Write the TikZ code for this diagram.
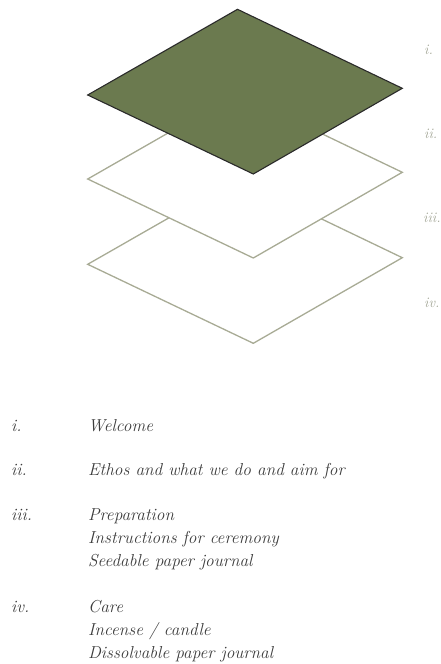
\documentclass[tikz,border=0pt]{standalone}
\usepackage{xcolor}
\definecolor{leaf}{HTML}{6B7A4F}
\definecolor{edge}{HTML}{2A2A2A}
\definecolor{sheet}{HTML}{A8AB95}
\definecolor{txt}{HTML}{3C3C3C}
\definecolor{lbl}{HTML}{A3A696}
\begin{document}
\begin{tikzpicture}[x=1pt,y=-1pt,
  layer/.style={fill=white,draw=sheet,line width=1.3pt,line join=miter},
  toplayer/.style={fill=leaf,draw=edge,line width=1.1pt,line join=miter},
  sidelbl/.style={anchor=base west,inner sep=0pt,font=\fontsize{14.5}{14.5}\selectfont\itshape,text=lbl},
  listtxt/.style={anchor=base west,inner sep=0pt,font=\fontsize{17.3}{17.3}\selectfont\itshape,text=txt}]
\useasboundingbox (0,0) rectangle (441,664);
% bottom sheet
\coordinate (T3) at (237.5,178.6);
\coordinate (R3) at (402.3,257.7);
\coordinate (B3) at (253.3,343.3);
\coordinate (L3) at (87.7,264.3);
\draw[layer] (T3) -- (R3) -- (B3) -- (L3) -- cycle;
% middle sheet
\coordinate (T2) at (237.5,93.3);
\coordinate (R2) at (402.3,172.3);
\coordinate (B2) at (253.3,258);
\coordinate (L2) at (87.7,179);
\draw[layer] (T2) -- (R2) -- (B2) -- (L2) -- cycle;
% top sheet
\coordinate (T1) at (237.5,9.3);
\coordinate (R1) at (402.3,88.3);
\coordinate (B1) at (253.3,174);
\coordinate (L1) at (87.7,95);
\draw[toplayer] (T1) -- (R1) -- (B1) -- (L1) -- cycle;
% side labels
\node[sidelbl] (s1) at (424,54) {i.};
\node[sidelbl] (s2) at (424,138.3) {ii.};
\node[sidelbl] (s3) at (423,222.6) {iii.};
\node[sidelbl] (s4) at (424,307) {iv.};
% list
\node[listtxt] (n1) at (11,431) {i.};
\node[listtxt] (t1) at (88,431) {Welcome};
\node[listtxt] (n2) at (11,475) {ii.};
\node[listtxt] (t2) at (88,475) {Ethos and what we do and aim for};
\node[listtxt] (n3) at (11,520) {iii.};
\node[listtxt] (t3a) at (88,520) {Preparation};
\node[listtxt] (t3b) at (88,543) {Instructions for ceremony};
\node[listtxt] (t3c) at (88,566) {Seedable paper journal};
\node[listtxt] (n4) at (11,612) {iv.};
\node[listtxt] (t4a) at (88,612) {Care};
\node[listtxt] (t4b) at (88,635) {Incense / candle};
\node[listtxt] (t4c) at (88,658) {Dissolvable paper journal};
\end{tikzpicture}
\end{document}
